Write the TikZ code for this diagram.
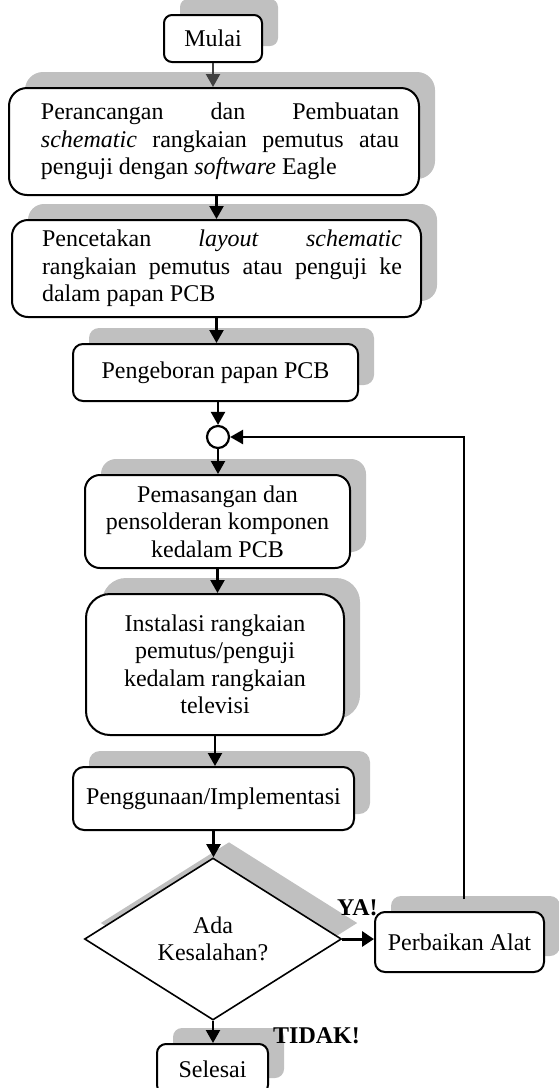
\documentclass[tikz,border=0pt]{standalone}
\usepackage{fontspec}
\setmainfont{Liberation Serif}
\usetikzlibrary{shapes.geometric,shadows,arrows.meta,calc}
\definecolor{shgray}{RGB}{192,192,192}
\definecolor{arrgray}{RGB}{64,64,64}
\begin{document}
\begin{tikzpicture}[x=1pt,y=-1pt,
  every node/.style={font=\fontsize{24pt}{27.5pt}\selectfont},
  sh/.style={drop shadow={shadow xshift=16pt,shadow yshift=16pt,fill=shgray,opacity=1}},
  procbox/.style={draw,line width=2pt,fill=white,inner sep=0pt,align=center,sh},
  txt/.style={inner sep=0pt,align=left},
  arr/.style={line width=2.2pt,-{Triangle[length=13pt,width=14pt]}},
  lbl/.style={font=\fontsize{24pt}{27.5pt}\selectfont\bfseries,inner sep=0pt,anchor=base west}]
\useasboundingbox (0,0) rectangle (558,1088);

\node[procbox, minimum width=98pt, minimum height=47pt, rounded corners=8pt] (mulai) at (213,38.5) {Mulai};

\node[procbox, minimum width=410pt, minimum height=107pt, rounded corners=18pt] (rancang) at (214,141.5) {};
\node[txt] (rancangtxt) at (220,141.5) {\makebox[358pt][s]{Perancangan dan Pembuatan}\\\makebox[358pt][s]{\textit{schematic} rangkaian pemutus atau}\\penguji dengan \textit{software} Eagle};

\node[procbox, minimum width=409pt, minimum height=97pt, rounded corners=16pt] (cetak) at (216.5,268.5) {};
\node[txt] (cetaktxt) at (222,268.5) {\makebox[360pt][s]{Pencetakan \textit{layout} \textit{schematic}}\\\makebox[360pt][s]{rangkaian pemutus atau penguji ke}\\dalam papan PCB};

\node[procbox, minimum width=285pt, minimum height=57pt, rounded corners=10pt] (bor) at (215.5,372.5) {Pengeboran papan PCB};

\node[circle, draw, line width=2.2pt, fill=white, minimum size=22pt, inner sep=0pt] (join) at (218,437) {};

\node[procbox, minimum width=265pt, minimum height=93pt, rounded corners=15pt] (pasang) at (217.5,521.5) {Pemasangan dan\\pensolderan komponen\\kedalam PCB};

\node[procbox, minimum width=258pt, minimum height=141pt, rounded corners=24pt] (instal) at (215,664.5) {Instalasi rangkaian\\pemutus/penguji\\kedalam rangkaian\\televisi};

\node[procbox, minimum width=281pt, minimum height=63pt, rounded corners=11pt] (guna) at (213.5,798.5) {Penggunaan/Implementasi};

\node[diamond, draw, line width=1.6pt, fill=white, minimum width=257pt, minimum height=162pt, inner sep=0pt, align=center, sh] (cek) at (213,939) {Ada\\Kesalahan?};

\node[lbl] (ya) at (337,915) {YA!};

\node[procbox, minimum width=169pt, minimum height=60pt, rounded corners=10pt] (perb) at (459.5,942) {Perbaikan Alat};

\node[procbox, minimum width=111pt, minimum height=50pt, rounded corners=9pt] (selesai) at (212.5,1069) {Selesai};

\node[lbl] (tidak) at (273,1043) {TIDAK!};

\draw[arr, draw=arrgray] (mulai.south) -- (mulai.south |- rancang.north);
\draw[arr] (cetak.north |- rancang.south) -- (cetak.north);
\draw[arr] (cetak.south) -- (cetak.south |- bor.north);
\draw[arr] (join.north |- bor.south) -- (join.north);
\draw[arr] (join.south) -- (join.south |- pasang.north);
\draw[arr] (pasang.south) -- (pasang.south |- instal.north);
\draw[arr] (instal.south) -- (instal.south |- guna.north);
\draw[arr] (guna.south) -- (guna.south |- cek.north);
\draw[arr] (cek.south) -- (cek.south |- selesai.north);
\draw[line width=3pt, -{Triangle[length=12pt,width=15pt]}] (cek.east) -- (cek.east -| perb.west);
\draw[arr, line width=2.6pt, shorten <=12pt] ([xshift=4.5pt]perb.north) |- (join.east);
\end{tikzpicture}
\end{document}
